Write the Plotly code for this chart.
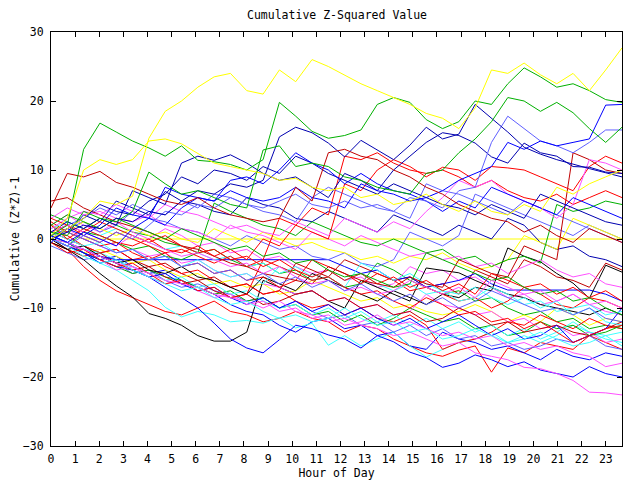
import plotly.graph_objects as go

N_POINTS = 36
LAST_HOUR = 23.67
hours = [round(i * LAST_HOUR / (N_POINTS - 1), 3) for i in range(N_POINTS)]

RED = "#ff0000"; DRED = "#c00000"; GREEN = "#00b000"; BLUE = "#0000ff"
DBLUE = "#0000b0"; LBLUE = "#6060ff"; MAG = "#ff50ff"; CYAN = "#40ffff"
YEL = "#ffff00"; BLK = "#000000"

y1 = [0, 1.5, 3, 5.5, 5, 6.2, 14.6, 18.5, 20, 22, 23.5, 24, 21.5, 21, 24.5, 22.8, 26, 25, 23.8, 22.5, 21.5, 20.5, 19.5, 18.2, 17.5, 16, 19, 24.5, 24, 25.5, 23.8, 22.5, 24, 21.5, 24.5, 27.7]
y2 = [0.5, 3, 10, 11.5, 10.8, 11.5, 14.2, 14.5, 13.8, 12.4, 11, 10.5, 10, 9.5, 8.5, 8.8, 7.5, 7, 7.5, 6, 6.5, 5, 5.5, 6.5, 5, 4, 5.5, 4, 3.5, 5, 4, 7.5, 6.5, 8, 9, 10]
g1 = [0.5, 2, 13, 16.8, 15.5, 14.2, 13.2, 12, 13.5, 11.4, 11.2, 10.8, 10, 11.5, 19.8, 17.8, 15.6, 14.6, 15, 15.8, 19.5, 20.5, 19.8, 17.3, 16, 17, 20, 19.5, 22.5, 24.8, 23.5, 22, 22.5, 21.5, 20.2, 19.8]
g2 = [1, 0.5, 4, 3, 2.5, 4, 9.7, 8, 6.5, 7, 6, 5, 4.5, 12.9, 13.5, 10.5, 11, 10.5, 9, 8.5, 7.5, 7, 6.5, 9.5, 10, 12.5, 14.5, 17, 20.5, 20, 18.5, 19.8, 18.3, 16, 14, 16.2]
dr1 = [4.5, 9.5, 9, 9.8, 8.2, 7.5, 6.5, 5.5, 5, 6, 4.5, 3.5, 3, 2.5, 3, 7.5, 5.5, 12.5, 13, 12, 11.5, 10, 9, 7.5, 6.5, 5, 4, 3, 2.5, 1, 2, 0.5, -0.5, 1.5, 0.5, -0.5]
dr2 = [5.5, 6, 4.5, 3.5, 2.5, 1.8, 1, 0, -1, -1.5, -2.5, -3.5, -4, -5, -5.5, -6, -6.5, -4, -5, -6, -6.5, -7, -5.5, -6.5, -7, -3, -4, -5, -5.5, -1, -2, -3, 12.5, 11.5, 10, 9.5]
b1 = [0, 1, 2, 1.5, 3, 2.5, 4, 3.5, 5.5, 7, 6.5, 8, 7.5, 8.5, 14.8, 16.2, 15.4, 13.9, 11.9, 14.3, 12.9, 11.5, 13.6, 16.2, 14.5, 15.2, 19.5, 17.5, 15.5, 13.3, 12.3, 11.5, 10.8, 10.2, 9.6, 9]
b2 = [0.5, -0.5, 1, 0, -1, 1.5, 3, 7.5, 6.5, 6, 5.5, 7, 6, 5.5, 6, 7.5, 6, 5.5, 4.5, 8, 7, 6.5, 5.5, 6, 7, 8.5, 9.5, 10.5, 14, 13, 14.2, 13.5, 14, 14.5, 19.4, 19.5]
lb1 = [0, -1, 0.5, -0.5, 1, 0, 2, 4, 3.5, 5, 4.5, 6, 5, 4.5, 5.5, 6.5, 5, 4.5, 5.5, 4.5, 5, 4, 6, 5.5, 4.5, 7, 7.5, 14, 17.8, 16, 14.2, 13.5, 12.5, 14, 15.8, 15.8]
db1 = [1, 2.5, 1.5, 3, 2, 7, 6, 5, 11, 12, 11.4, 12.2, 11, 9.5, 8.5, 9, 7.5, 6, 9.5, 8.5, 7, 10, 12, 14, 15.4, 15, 13.9, 11.9, 11, 13.9, 12.5, 12, 10.5, 10.4, 9.7, 9.5]
db3 = [0, 1.5, 3, 5, 4, 3.5, 5.5, 6.5, 9, 8, 10, 9.5, 8.5, 10.5, 9.5, 12, 11, 9.5, 8.5, 7.5, 6.5, 8, 7, 6, 5, 4.5, 3.5, 5, 4, 3, 6.5, 5.5, 4.5, 3.5, 2.5, 2]
b3 = [-0.5, 1.5, 0.5, 2, 4.5, 3.5, 3, 2, 4.5, 6, 5.5, 8.5, 9, 8, 10, 12.5, 11, 10, 8, 9.5, 8, 7, 6.5, 5.5, 4, 5.5, 4.5, 7.5, 6.5, 5.5, 4.5, 3.5, 6, 5, 4, 3]
b4 = [0.5, -0.5, -2, -3, -2.5, -4, -5, -4.5, -6, -7, -8, -9.5, -10.5, -11, -12.5, -13.5, -12, -11.5, -13, -12.5, -14, -13.5, -15.5, -16, -13.5, -14.5, -15, -16, -15.5, -16.5, -17.5, -16, -17, -17.5, -16.5, -17]
b5 = [0, -1, -2, -3, -4, -4.5, -5.5, -7, -8.5, -10, -12.2, -14.5, -15.8, -16.5, -14.6, -12.5, -13, -13.9, -14.5, -15.8, -14, -14.9, -16.4, -17.2, -18.6, -18, -16.8, -17.5, -18.5, -17.8, -19, -19.5, -20, -18.5, -19.5, -20]
k1 = [0, -1.5, -3, -5, -6.8, -8.4, -10.8, -11.5, -12.5, -14, -14.8, -14.8, -13.5, -6, -7, -8, -7.5, -9, -10, -6, -7, -8, -9, -4.2, -4.5, -4.9, -6, -7, -8, -8.5, -9.5, -10, -10.5, -11, -10, -11]
k2 = [-0.5, -1.5, -1, -2.5, -3.5, -3, -4.5, -5, -4, -5.5, -6, -7, -8, -5.5, -6.5, -7.5, -5, -6, -7, -8, -9, -7.5, -8.5, -9.5, -8, -8.5, -7, -7.5, -1.3, -2.5, -3.3, -5, -6.4, -8.6, -3.8, -4.8]
m1 = [0, -0.5, -1.5, -2.5, -3.5, -4, -5, -6, -6.5, -7, -8, -8.5, -9, -10, -9, -10.5, -11, -12, -11.5, -12.5, -13, -14, -13.5, -14.5, -15.5, -15, -16.5, -17, -17.5, -18.6, -18.8, -19.5, -20.5, -22.2, -22.3, -22.6]
c1 = [0, -1, -2, -3.5, -4.5, -6, -7.5, -9.9, -11.3, -10.5, -11, -12, -11.8, -12.2, -11.4, -12.9, -12.2, -15.4, -14, -15.5, -14.5, -13.5, -15.5, -17.1, -16, -15, -14.5, -13.5, -15, -14, -15, -14, -12.5, -13.5, -14.5, -15]
c2 = [0.5, -0.5, -1.5, -2, -3, -4, -5, -6, -5.5, -7, -6.5, -8, -7.5, -9, -10, -9.5, -11, -10, -11.5, -10.5, -12, -11, -12.5, -11.5, -13, -12, -13.5, -12.5, -14, -13, -14.5, -13.5, -12, -13.5, -14, -15.5]
c3 = [1, 0, -1, -0.5, -2, -1.5, -3, -2.5, -4, -3, -4.5, -5.5, -5, -6.5, -4, -5, -6, -5.5, -7, -3.5, -4.5, -6, -5, -6.5, -7.5, -8, -7, -8.5, -9.5, -8.5, -10, -9, -11, -10, -12, -12.5]
c4 = [1.5, 2.5, 1.5, 0.5, 1.5, 0.5, -0.5, -1.5, -1, -2, -3, -2.5, -4, -3.5, -5, -4, -5.5, -4.5, -6, -5, -6.5, -7.5, -6.5, -8, -7.5, -9, -8.5, -7, -8, -9.5, -9, -10.5, -10, -9.5, -11, -10.5]
c5 = [0, -1, -2.5, -3.5, -3, -4.5, -5.5, -6.5, -7.5, -7, -8.5, -9.5, -9, -10.5, -11.5, -11, -12, -11.5, -10, -11.5, -12.5, -12, -13.5, -13, -14.5, -14, -13, -14, -15, -14.5, -13.5, -14.5, -15.5, -15, -14, -13.5]
r1 = [0, -1.5, -4, -6, -7.5, -8.5, -9.5, -10.5, -11, -10, -9, -10.5, -11, -12, -11.5, -10.5, -11.5, -12, -13.5, -12.5, -13, -14.5, -15.5, -16.5, -17, -16.1, -15.5, -19.3, -15.8, -16.5, -15, -15.5, -16, -14, -15, -16]
r2 = [1, 0.5, -1, -2, -1.5, -3, -2.5, -4, -5, -4.5, -6, -7, -6.5, -8, -7.5, -9, -10, -9.5, -11, -10, -11.5, -12, -11, -12.5, -16, -15, -14.5, -13.5, -12, -12.5, -11, -12, -13, -11.5, -12.5, -13]
r3 = [2, 0, 1.5, 0.5, -0.5, -1, 0, -1.5, -2, -1, -2.5, -1.5, -3, 0, -1, 2, 1, 0, 8, 7, 10, 11.5, 10.5, 9, 10.4, 10, 8.5, 10.5, 10.3, 10, 9, 8, 7, 10.5, 12, 11]
r4 = [2.5, 1, 0, -1, -0.5, -2, -3, -2, -4, -3.5, -5, -4.5, -6, -5.5, -7, -6, -3, -4, -5, -6.5, -5, -6, -7.5, -7, -8, -9, -8.5, -10, -9, -7, -8, -9.5, -10, -8.5, -9, -10]
r5 = [-0.5, -2, -1.5, -3, -4, -3.5, -5, -6.5, -6, -7.5, -7, -8.5, -8, -3, -4, -5, -6, -5.5, -7, -8, -7.5, -9, -10, -8.5, -9.5, -11, -10.5, -12, -11.5, -13, -12, -13.5, -15, -14, -13, -12.5]
r6 = [1, 2, 0.5, -0.5, 1, 0, -1, -2, -1.5, -2.5, -3.5, -2.5, -4, -3, 3, 2, 4.5, 3.5, 12, 11.5, 12.5, 11, 10, 9.5, 10, 9, 7.5, 8.5, 7, 6, 5.5, 6.5, 5, 6, 7, 6]
r7 = [3, 2, 1, 2.5, 1.5, 0.5, -0.5, 0.5, -1, -2, -1.5, -3, -2.5, -4, -3, -4.5, -5.5, -4.5, -6, -5, -6.5, -5.5, -7, -6, -7.5, -6.5, -8, -5, -6, -7, -6.5, -8, -7, -8.5, -7.5, -9]
m2 = [2, 3.5, 2, 1, 2.5, 1, 0, 1.5, 0.5, -1, -0.5, -2, -1.5, -3, -2.5, -4, -5, -4.5, -6, -5.5, -7, -6.5, -4, -5, -4.5, -6, -5.5, -7, -8.5, -8, -9.5, -9, -8, -9.5, -10.5, -11]
m3 = [1.5, 3, 4, 3.5, 5, 4, 3, 5, 4, 3.5, 2.5, 1.5, 2, 1, 0.5, 2.5, 1.5, 0.5, 3, 2, 1, 2.5, 1.5, 4, 6, 8.5, 7.5, 8.5, 6.5, 5.5, 4.5, 3, 5, 11.5, 11, 10]
m4 = [0.5, 1.5, 0, -1, -2, -1.5, -2.5, -2, -3.5, -3, -4.5, -5.5, -5, -6.5, -7, -8, -7.5, -9, -8.5, -10, -9.5, -11, -10.5, -8, -9.5, -10, -11, -10.5, -12, -11.5, -13, -12.5, -14, -13.5, -15, -14.5]
m5 = [3, 4.5, 3.5, 4, 3, 2.5, 3.5, 2, 1.5, 1, 0, 2, 1, 0.5, -0.5, -1.5, 1, 0, -1, 0.5, -0.5, -1.5, -2.5, -2, -3, -2.5, -4, -3.5, -5, -4, -3, -4.5, -5.5, -5, -6.5, -7]
m6 = [0, -1, -1.5, -3, -4.5, -4, -5.5, -6.5, -6, -7.5, -8.5, -8, -9.5, -9, -10.5, -10, -11.5, -11, -12.5, -12, -11, -12.5, -12, -13, -14, -13.5, -14.5, -14, -15.5, -15, -16, -15.5, -16.5, -17, -18.5, -18]
m7 = [1, 2, 1, 0, -1, 0.5, -0.5, -1.5, -2.5, -2, -3, -4, -3.5, -5, -4, -5.5, -6.5, -6, -7.5, -7, -8, -7.5, -6, -7, -8, -7, -8.5, -6, -7, -8, -7.5, -9, -8, -9.5, -9, -10]
g3 = [3.5, 2.5, 1.5, 3, 2, 1, 0.5, -0.5, -1, -2, -1.5, -3, -4, -3.5, -5, -4.5, -6, -5.5, -7, -6.5, -3.5, -4.5, -6, -7, -8, -7.5, -9, -8.5, -10, -11, -10.5, -12, -11.5, -13, -12.5, -13]
g4 = [0, -1, 1, 0.5, -0.5, -1.5, -1, -2.5, -3, -2, 5.2, 4, 3, 2, 1.5, 0.5, 2.5, 1.5, 0.5, -0.5, -1, 0, -1, -2, -1.5, -3, -2.5, -4, -3, -2.5, -3.5, 5, 4, 4.5, 5.5, 5]
g5 = [0, -0.5, -2, -3, -4, -5, -4.5, -5.5, -6, -7, -8, -7.5, -9, -8.5, -10, -9.5, -11, -10.5, -12, -11, -12.5, -11.5, -10, -11, -12, -11.5, -13, -12.5, -14, -13.5, -12, -13, -12.5, -14, -13.5, -12.5]
g6 = [2, 3.5, 2.5, 1.5, 3, 2, 1, 0, 1.5, 0.5, -0.5, -1.5, -1, -2.5, -2, -3.5, -3, -4.5, -5.5, -5, -6, -7, -6.5, -2, -3, -4, -5, -6, -5.5, -7, -8, -7.5, -9, -8.5, -10, -11]
db2 = [2, 1, 3.5, 2.5, 5.5, 4.5, 3.5, 6.9, 5.5, 5, 4, 3.5, 6, 5, 4.5, 3, 2.5, 4, 3, 2, 1, 3.5, 2.5, 1.5, 0.5, 2, 1, 0, 3, 2, -0.5, -1.5, -1, -2.5, -3, -4]
lb2 = [0.5, 1.5, 2.5, 1, 2, 4, 3, 2.5, 1.5, 1, 0, -1, 0.5, -0.5, -1.5, -1, -2.5, -3, -2, -3.5, -4, -3, 1, 0, -1, 0.5, 6.5, 5.5, 4.5, 3.5, 2.5, 1.5, 0.5, 2, 1, 0]
lb3 = [-1, -2, -3, -2.5, -3.5, -5, -4.5, -6, -7, -6.5, -7.5, -8, -9, -8.5, -10, -9, -10.5, -11.5, -11, -12.5, -12, -13.5, -12.5, -14, -13, -14.5, -14, -15.5, -15, -16, -15.5, -14.5, -15, -14, -15.5, -16]
lb4 = [1, 2, 3, 4.5, 3.5, 5, 4, 3.5, 5.5, 4.5, 6.5, 6, 5, 4, 3.5, 2.5, 6, 7.5, 6.5, 5.5, 4.5, 4, 3, 8, 7, 6.5, 5.5, 4.5, 3.5, 5.5, 4.5, 3.5, 2.5, 1.5, 0.5, -0.5]
lb5 = [0, 1, 0, -1, -2, -1.5, -3, -2.5, -4, -3.5, -5, -4.5, -6, -5, -6.5, -5.5, -7, -6, -7.5, -6.5, -8, -9, -8, -9.5, -8.5, -10, -9, -7.5, -8.5, -9.5, -10.5, -10, -11, -10, -11.5, -12]
y3 = [0.5, 1, 0, 0, 0, 0, 0, 0, 0, 0, 0, 0, 0, 0, 0, 0, 0, 0, 0, 0, 0, 0, 0, 0, 0, 0, 0, 0, 0, 0, 0, 0, 0, 0, 0, 0]
b6 = [0.5, -0.5, -1.5, -2.5, -3, -3, -3, -3, -3, -3, -3, -3, -3, -3, -3, -3, -3, -3, -4, -5, -4.5, -6, -5.5, -7, -6.5, -6, -5, -6.5, -7.4, -7.4, -7.4, -7.4, -7.4, -7.4, -8, -9]
dr3 = [1, 0, -1, -2, -1.5, -3, -4, -3.5, -5, -6, -5.5, -7, -6.5, -8, -7.5, -3.5, -4.5, -5.5, -3, -4, -5, -6, -5.5, -7, -6.5, -8, -4.5, -5.5, -6.5, -3, -4, -5.5, -6, -7, -3.5, -4.5]
dr4 = [-0.5, -1.5, -2.5, -2, -3.5, -4.5, -4, -5.5, -6.5, -6, -7.5, -8.5, -8, -9.5, -9, -8, -7.5, -9, -8.5, -10, -9.5, -11, -10.5, -12, -11.5, -10, -11, -12.5, -12, -13.5, -13, -12.5, -13.5, -14, -13, -12]
b7 = [0, -1, -2, -3.5, -3, -4.5, -5.5, -5, -6.5, -7.5, -7, -8.5, -9.5, -8.5, -10, -9, -10.5, -9.5, -11, -10, -11.5, -12.5, -11.5, -13, -12, -11, -12.5, -14, -13, -14.5, -14, -12.5, -15, -14, -13, -10]
y4 = [0, -1, -2, -1.5, -2.5, -3.5, -3, -4.5, -5.5, -5, -6.5, -6, -7, -6.5, -8, -7.5, -6, -7, -8, -9, -8.5, -10, -9.5, -10.5, -11, -10.5, -9.5, -10.5, -12, -11, -12, -10, -11, -12.5, -11.5, -12]
y5 = [2, 1, 2.5, 1.5, 0.5, 1.5, 0.5, 1, 0, -0.5, 1.5, 0.5, -0.5, 1, 0, -1, -0.5, -1.5, -2, -3, -2.5, -3.5, -2.5, -3, -2, -3.5, -4.5, -4, -3, 0.5, -0.5, -1.5, 3, 2, 1, 0]

series = [
    (y3, YEL), (r1, RED), (g3, GREEN), (b4, BLUE), (m2, MAG), (c1, CYAN), (dr3, DRED),
    (db2, DBLUE), (lb3, LBLUE), (y4, YEL), (k1, BLK), (r2, RED), (g5, GREEN), (b5, BLUE),
    (m4, MAG), (c2, CYAN), (dr4, DRED), (b6, BLUE), (lb2, LBLUE), (y5, YEL), (k2, BLK),
    (r4, RED), (g4, GREEN), (b7, BLUE), (m6, MAG), (c3, CYAN), (r5, RED), (m5, MAG),
    (c4, CYAN), (lb4, LBLUE), (m1, MAG), (dr2, DRED), (r3, RED), (r6, RED), (m3, MAG),
    (r7, RED), (g6, GREEN), (m7, MAG), (c5, CYAN), (lb5, LBLUE), (db3, DBLUE),
    (b3, BLUE), (db1, DBLUE), (lb1, LBLUE), (b2, BLUE), (b1, DBLUE), (dr1, DRED),
    (g2, GREEN), (g1, GREEN), (y2, YEL), (y1, YEL),
]

fig = go.Figure()
for vals, col in series:
    fig.add_trace(go.Scatter(x=hours, y=vals, mode="lines",
                             line=dict(color=col, width=1), showlegend=False,
                             hoverinfo="skip"))

FONT = "DejaVu Sans Mono"
FS = 11.5
fig.update_layout(
    width=640, height=480,
    margin=dict(l=43, r=26, t=24, b=42, autoexpand=False),
    paper_bgcolor="white", plot_bgcolor="white",
    font=dict(family=FONT, size=FS, color="black"),
    annotations=[dict(text="Cumulative Z-Squared Value", xref="paper", yref="paper",
                      x=0.5, y=1, yshift=17, xanchor="center", yanchor="middle",
                      showarrow=False, font=dict(family=FONT, size=FS, color="black"))],
)
fig.update_xaxes(range=[0, LAST_HOUR], tickmode="linear", tick0=0, dtick=1,
                 ticks="inside", ticklen=5, tickcolor="black", mirror="allticks",
                 showline=True, linecolor="black", linewidth=1, showgrid=False,
                 zeroline=False, automargin=False, ticklabelstandoff=2,
                 title=dict(text="Hour of Day", standoff=3, font=dict(family=FONT, size=FS)),
                 tickfont=dict(family=FONT, size=FS))
fig.update_yaxes(range=[-30, 30], tickmode="linear", tick0=-30, dtick=10,
                 ticks="inside", ticklen=5, tickcolor="black", mirror="allticks",
                 showline=True, linecolor="black", linewidth=1, showgrid=False,
                 zeroline=False, automargin=False, ticklabelstandoff=4,
                 title=dict(text="Cumulative (Z*Z)-1", standoff=12, font=dict(family=FONT, size=FS)),
                 tickfont=dict(family=FONT, size=FS))

fig.write_html("out.html")
